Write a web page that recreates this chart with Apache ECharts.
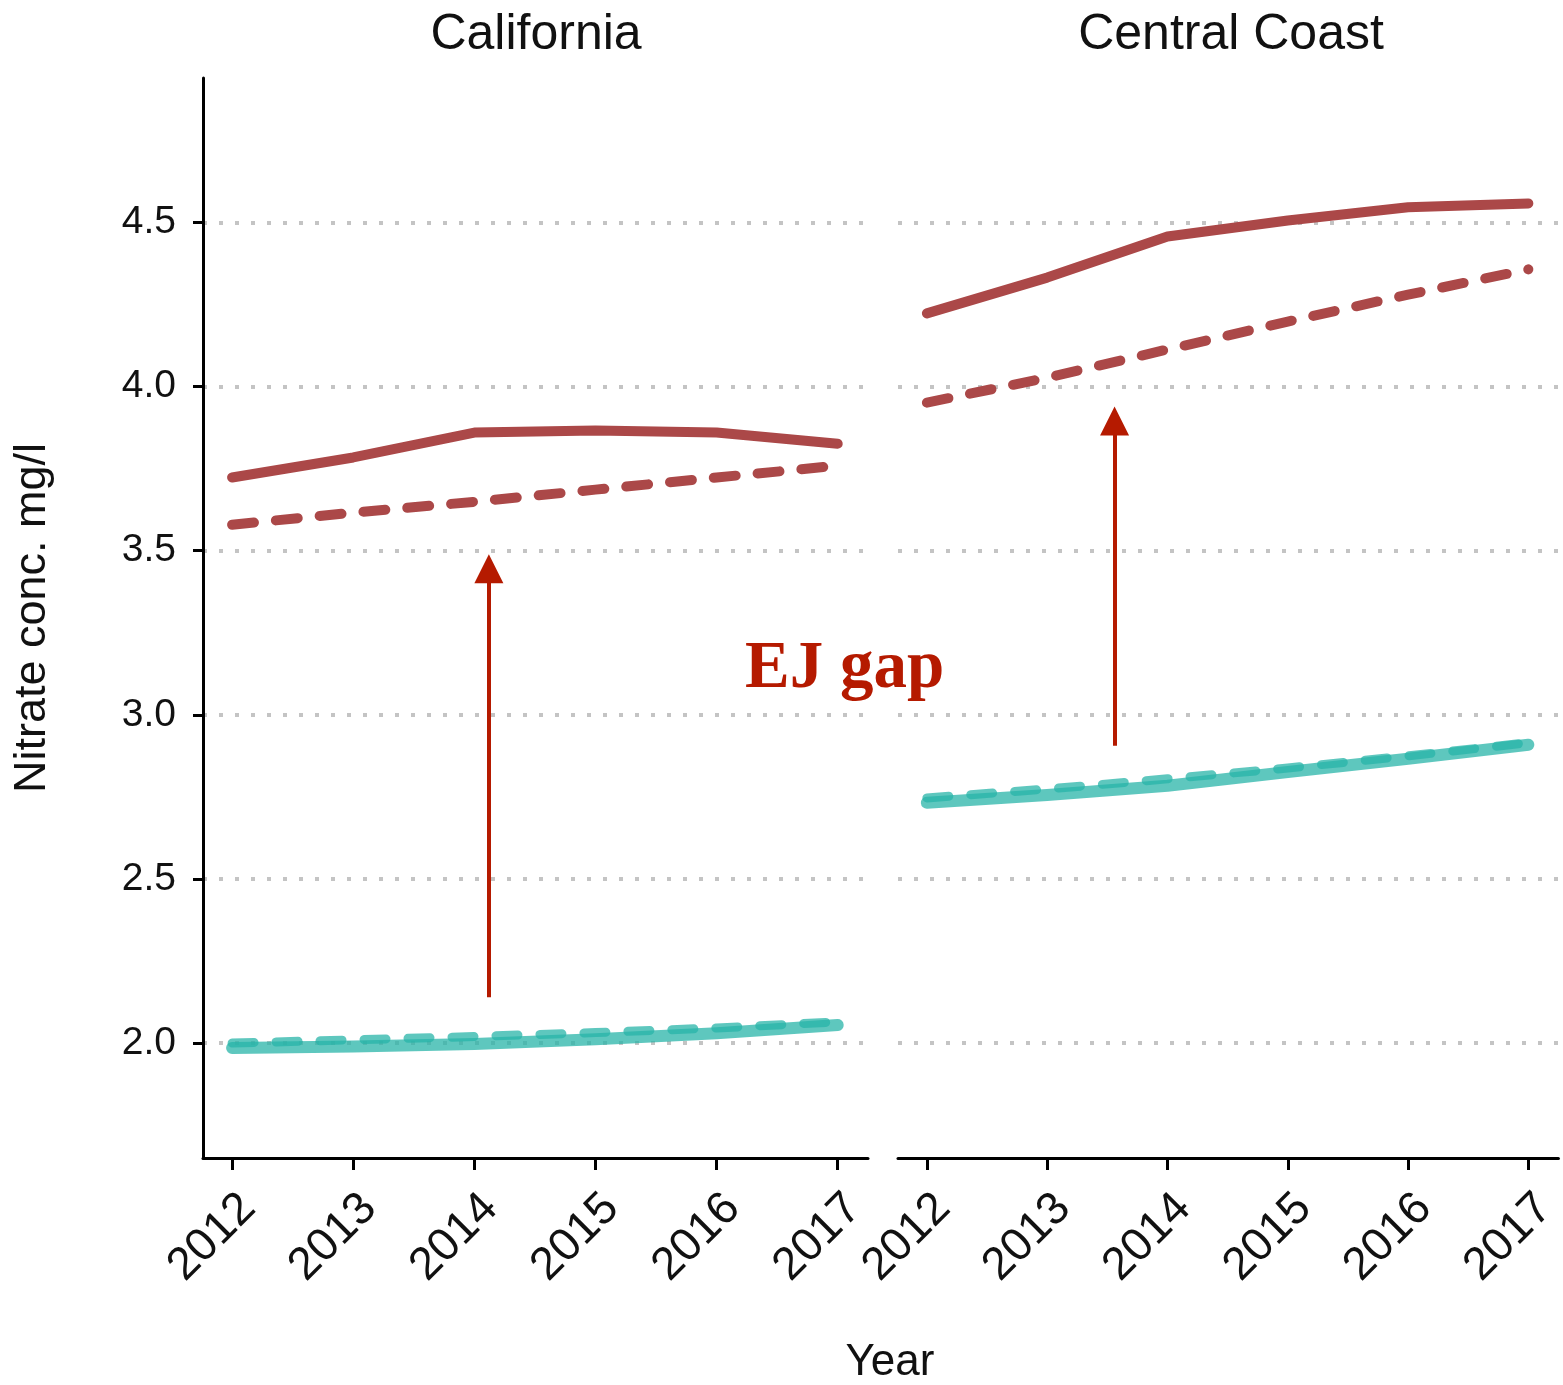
<!DOCTYPE html>
<html><head><meta charset="utf-8">
<script src="https://cdn.jsdelivr.net/npm/echarts@6/dist/echarts.min.js"></script>
<style>html,body{margin:0;padding:0;background:#fff}#c{width:1563px;height:1385px}</style>
</head><body><div id="c"></div>
<script>
const years = [2012, 2013, 2014, 2015, 2016, 2017];
const yTicks = [2.0, 2.5, 3.0, 3.5, 4.0, 4.5];
const panels = ['California', 'Central Coast'];
const caHighSolid = [3.723, 3.784, 3.86, 3.866, 3.86, 3.826];
const caHighDashed = [3.579, 3.616, 3.649, 3.686, 3.723, 3.759];
const caLowSolid = [1.985, 1.99, 1.997, 2.012, 2.03, 2.055];
const caLowDashed = [2.0, 2.01, 2.02, 2.032, 2.046, 2.065];
const ccHighSolid = [4.223, 4.332, 4.457, 4.506, 4.546, 4.558];
const ccHighDashed = [3.951, 4.027, 4.113, 4.198, 4.28, 4.357];
const ccLowSolid = [2.732, 2.756, 2.784, 2.826, 2.866, 2.909];
const ccLowDashed = [2.747, 2.774, 2.805, 2.838, 2.875, 2.915];
const caArrow = [[2014.12, 2.14], [2014.12, 3.445]];
const ccArrow = [[2013.56, 2.906], [2013.56, 3.895]];
const annotationText = 'EJ gap';

const FONT = '"Liberation Sans", Arial, sans-serif';
const RED = '#ab4848';
const TEAL = 'rgba(40,180,168,0.75)';
const ARROW = '#b51a00';

function pairs(vals) { return years.map((y, i) => [y, vals[i]]); }

function xAxisFor(idx) {
  return {
    type: 'value', gridIndex: idx, min: 2011.76, max: 2017.25,
    axisLine: { show: true, lineStyle: { color: '#000', width: 3 } },
    axisTick: { show: true, customValues: years, length: 12, lineStyle: { color: '#000', width: 3 } },
    axisLabel: { show: true, customValues: years, rotate: 45, fontSize: 46, color: '#111', fontFamily: FONT, margin: 27, verticalAlign: 'top', formatter: v => String(v) },
    splitLine: { show: false }
  };
}
function yAxisFor(idx) {
  const left = idx === 0;
  return {
    type: 'value', gridIndex: idx, min: 1.65, max: 4.94,
    name: left ? 'Nitrate conc. mg/l' : '', nameLocation: 'middle', nameGap: 148,
    nameTextStyle: { fontSize: 45, color: '#111', fontFamily: FONT },
    axisLine: { show: left, lineStyle: { color: '#000', width: 3 } },
    axisTick: { show: left, customValues: yTicks, length: 10, lineStyle: { color: '#000', width: 3 } },
    axisLabel: { show: left, customValues: yTicks, fontSize: 39, color: '#111', fontFamily: FONT, margin: 27, formatter: v => v.toFixed(1) },
    splitLine: { show: true, lineStyle: { color: '#c4c4c4', width: 4, type: [4, 12] } }
  };
}
function lineSeries(idx, vals, color, width, dashed, z) {
  return {
    type: 'line', xAxisIndex: idx, yAxisIndex: idx, data: pairs(vals),
    showSymbol: false, silent: true, z: z,
    lineStyle: { color: color, width: width, type: dashed ? [22, 22] : 'solid', cap: 'round', join: 'round' }
  };
}
function arrowSeries(idx, arr) {
  return {
    type: 'line', xAxisIndex: idx, yAxisIndex: idx, data: [], silent: true,
    markLine: {
      silent: true, animation: false,
      symbol: ['none', 'triangle'], symbolSize: 29,
      label: { show: false },
      itemStyle: { color: ARROW },
      lineStyle: { color: ARROW, width: 4, type: 'solid' },
      emphasis: { disabled: true },
      data: [[{ coord: arr[0] }, { coord: arr[1] }]]
    }
  };
}

const chart = echarts.init(document.getElementById('c'));
chart.setOption({
  animation: false,
  backgroundColor: '#fff',
  grid: [
    { left: 203, right: 695, top: 78, bottom: 227 },
    { left: 898, right: 3, top: 78, bottom: 227 }
  ],
  xAxis: [xAxisFor(0), xAxisFor(1)],
  yAxis: [yAxisFor(0), yAxisFor(1)],
  graphic: [
    { type: 'text', x: 536, y: 10, style: { text: panels[0], fontSize: 50, fontFamily: FONT, fill: '#111', align: 'center', verticalAlign: 'top' } },
    { type: 'text', x: 1231, y: 10, style: { text: panels[1], fontSize: 50, fontFamily: FONT, fill: '#111', align: 'center', verticalAlign: 'top' } },
    { type: 'text', x: 890, y: 1363, style: { text: 'Year', fontSize: 44, fontFamily: FONT, fill: '#111', align: 'center', verticalAlign: 'middle' } },
    { type: 'text', x: 745, y: 636, style: { text: annotationText, fontSize: 67, fontWeight: 'bold', fontFamily: '"Liberation Serif", "DejaVu Serif", serif', fill: ARROW, align: 'left', verticalAlign: 'top' } }
  ],
  series: [
    lineSeries(0, caHighSolid, RED, 10, false, 3),
    lineSeries(0, caHighDashed, RED, 10, true, 3),
    lineSeries(0, caLowSolid, TEAL, 12, false, 3),
    lineSeries(0, caLowDashed, TEAL, 9, true, 4),
    lineSeries(1, ccHighSolid, RED, 10, false, 3),
    lineSeries(1, ccHighDashed, RED, 10, true, 3),
    lineSeries(1, ccLowSolid, TEAL, 12, false, 3),
    lineSeries(1, ccLowDashed, TEAL, 9, true, 4),
    arrowSeries(0, caArrow),
    arrowSeries(1, ccArrow)
  ]
});
</script></body></html>
